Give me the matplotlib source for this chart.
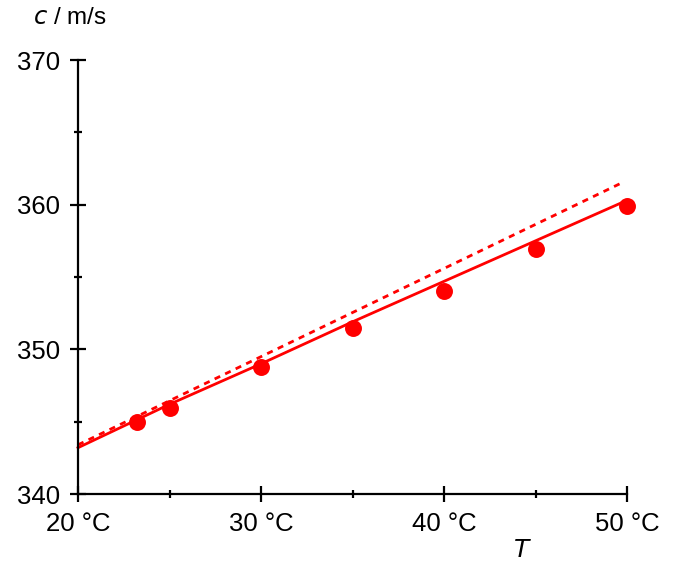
import matplotlib
matplotlib.use("Agg")
import matplotlib.pyplot as plt
from matplotlib.ticker import FixedLocator

plt.rcParams['font.family'] = ['Liberation Sans', 'DejaVu Sans']

# measured points
T_meas = [23.2, 25, 30, 35, 40, 45, 50]
c_meas = [345.0, 345.95, 348.8, 351.5, 354.0, 356.95, 359.9]

# solid curve
T_solid = [20, 25, 30, 35, 40, 45, 50]
c_solid = [343.2, 346.2, 349.0, 351.9, 354.7, 357.5, 360.3]

# dashed straight line
T_dash = [20, 49.7]
c_dash = [343.4, 361.5]

xticks = [20, 30, 40, 50]
xtick_labels = ["20 °C", "30 °C", "40 °C", "50 °C"]
yticks = [340, 350, 360, 370]

red = "#ff0000"

fig = plt.figure(figsize=(6.76, 5.63), dpi=100)
ax = fig.add_axes([78/676, 69/563, 549/676, 434/563])

ax.plot(T_dash, c_dash, color=red, lw=2, linestyle=(0, (2.2, 2.0)))
ax.plot(T_solid, c_solid, color=red, lw=2)
ax.plot(T_meas, c_meas, 'o', color=red, markersize=12.2, markeredgewidth=0)

ax.set_xlim(20, 50)
ax.set_ylim(340, 370)
ax.set_xticks(xticks)
ax.set_xticklabels(xtick_labels)
ax.set_yticks(yticks)
ax.xaxis.set_minor_locator(FixedLocator([25, 35, 45]))
ax.yaxis.set_minor_locator(FixedLocator([345, 355, 365]))

for s in ['top', 'right']:
    ax.spines[s].set_visible(False)
for s in ['left', 'bottom']:
    ax.spines[s].set_linewidth(1.6)
    ax.spines[s].set_clip_on(False)

ax.tick_params(which='major', direction='inout', length=12, width=1.6, labelsize=18.5, pad=7)
ax.tick_params(which='minor', direction='inout', length=6, width=1.6)
for ln in ax.lines:
    ln.set_clip_on(False)

fig.text(33/676, 1 - 18/563, "$c$ / m/s", fontsize=17.5, ha='left', va='center',
         math_fontfamily='dejavusans')
fig.text(522/676, 1 - 550/563, "$T$", fontsize=18, ha='center', va='center')

fig.savefig("out.png", dpi=100)
